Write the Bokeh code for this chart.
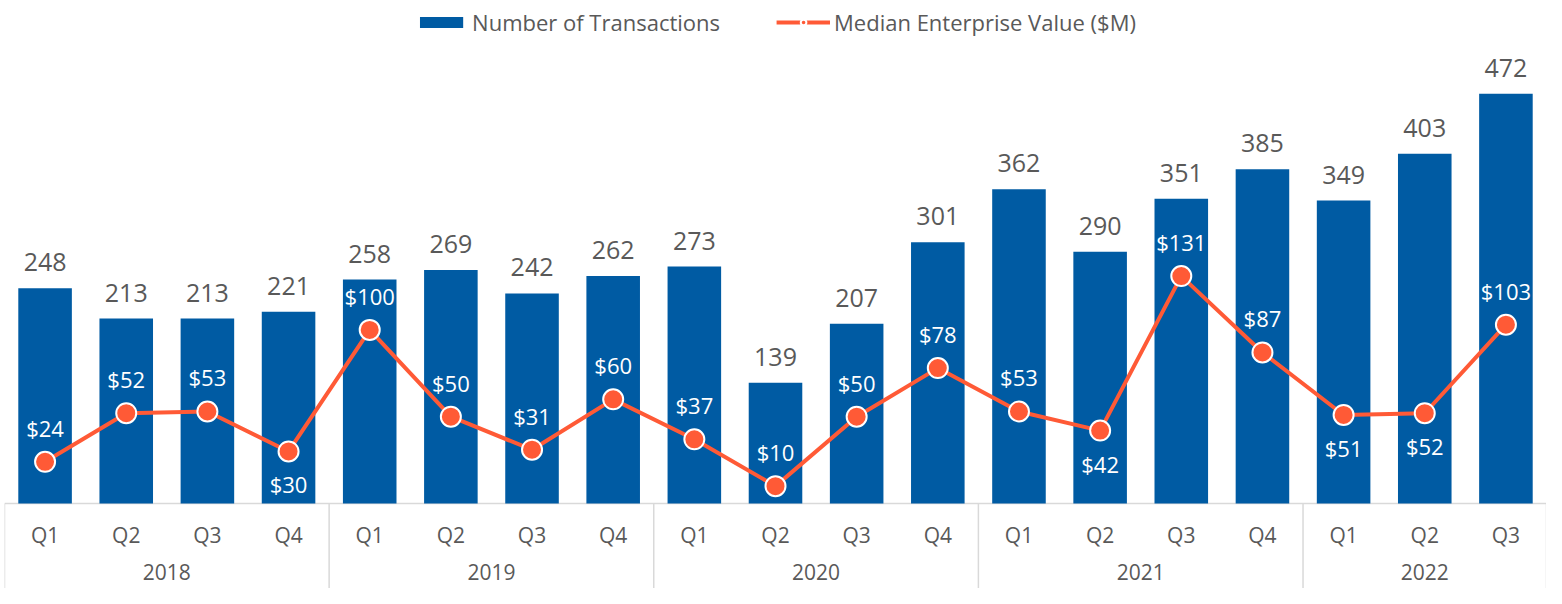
from bokeh.plotting import figure
from bokeh.models import FactorRange, Range1d, ColumnDataSource, Legend, LegendItem
from bokeh.core.properties import value
from bokeh.embed import file_html
from bokeh.resources import INLINE

# ---------------- data ----------------
YEARS = ["2018", "2019", "2020", "2021", "2022"]
QUARTERS = [
    ["Q1", "Q2", "Q3", "Q4"],
    ["Q1", "Q2", "Q3", "Q4"],
    ["Q1", "Q2", "Q3", "Q4"],
    ["Q1", "Q2", "Q3", "Q4"],
    ["Q1", "Q2", "Q3"],
]
TRANSACTIONS = [248, 213, 213, 221, 258, 269, 242, 262, 273, 139, 207, 301,
                362, 290, 351, 385, 349, 403, 472]
MEDIAN_EV = [24, 52, 53, 30, 100, 50, 31, 60, 37, 10, 50, 78,
             53, 42, 131, 87, 51, 52, 103]
# indices whose value label sits below the marker
EV_LABEL_BELOW = [3, 13, 16, 17]

# ---------------- style ----------------
FONT = "Open Sans"
BAR_COLOR = "#005BA3"
LINE_COLOR = "#FF5A36"
TEXT_COLOR = "#595959"
RULE_COLOR = "#D9D9D9"

W, H = 1546, 588
LEFT_PAD = 4
BASELINE_PX = 503          # distance of the zero line from the top of the frame
PX_PER_UNIT = 0.868        # pixels per transaction
EV_RATIO = 2.0             # transactions per $M on the secondary scale

y_end = BASELINE_PX / PX_PER_UNIT
y_start = -(H - BASELINE_PX) / PX_PER_UNIT

factors = [(y, q) for y, qs in zip(YEARS, QUARTERS) for q in qs]
quarters = [q for _, q in factors]

p = figure(
    width=W, height=H,
    x_range=FactorRange(*factors, factor_padding=0, group_padding=0, range_padding=0),
    y_range=Range1d(y_start, y_end),
    output_backend="svg", toolbar_location=None,
    min_border=0, min_border_left=LEFT_PAD, min_border_right=0,
    min_border_top=0, min_border_bottom=0,
)
p.extra_y_ranges = {"ev": Range1d(y_start / EV_RATIO, y_end / EV_RATIO)}
p.xaxis.visible = False
p.yaxis.visible = False
p.xgrid.visible = False
p.ygrid.visible = False
p.outline_line_color = None
p.background_fill_color = "white"
p.border_fill_color = "white"

src = ColumnDataSource(dict(
    x=factors, q=quarters, n=TRANSACTIONS, ev=MEDIAN_EV,
    nlab=[str(v) for v in TRANSACTIONS],
    zero=[0] * len(factors),
))

# category axis frame: base line and group separators
bounds = [0]
for qs in QUARTERS:
    bounds.append(bounds[-1] + len(qs))
p.segment(x0=[bounds[0]], y0=[0], x1=[bounds[-1]], y1=[0],
          line_color=RULE_COLOR, line_width=1.5)
p.segment(x0=bounds, y0=[0] * len(bounds), x1=bounds, y1=[y_start] * len(bounds),
          line_color=RULE_COLOR, line_width=1.5)

bars = p.vbar(x="x", top="n", width=0.66, source=src,
              fill_color=BAR_COLOR, line_color=None)

# bar value labels
p.text(x="x", y="n", text="nlab", source=src, y_offset=-26,
       text_align="center", text_baseline="middle",
       text_font=value(FONT), text_font_size="25px", text_color=TEXT_COLOR)

# category labels
p.text(x="x", y="zero", text="q", source=src, y_offset=31,
       text_align="center", text_baseline="middle",
       text_font=value(FONT), text_font_size="21px", text_color=TEXT_COLOR)
p.text(x=YEARS, y=[0] * len(YEARS), text=YEARS, y_offset=68,
       text_align="center", text_baseline="middle",
       text_font=value(FONT), text_font_size="21px", text_color=TEXT_COLOR)

# line series
line_r = p.line(x="x", y="ev", source=src, y_range_name="ev",
                line_color=LINE_COLOR, line_width=4)
scat_r = p.scatter(x="x", y="ev", source=src, y_range_name="ev", size=20,
                   fill_color=LINE_COLOR, line_color="white", line_width=2)

above = [i for i in range(len(factors)) if i not in EV_LABEL_BELOW]
below = [i for i in range(len(factors)) if i in EV_LABEL_BELOW]
for idx, off in ((above, -34), (below, 33)):
    s = ColumnDataSource(dict(
        x=[factors[i] for i in idx],
        ev=[MEDIAN_EV[i] for i in idx],
        t=["$" + str(MEDIAN_EV[i]) for i in idx],
    ))
    p.text(x="x", y="ev", text="t", source=s, y_range_name="ev", y_offset=off,
           text_align="center", text_baseline="middle",
           text_font=value(FONT), text_font_size="22px", text_color="white")

legend = Legend(
    items=[LegendItem(label="Number of Transactions", renderers=[bars]),
           LegendItem(label="Median Enterprise Value ($M)", renderers=[line_r, scat_r])],
    orientation="horizontal", location="top_center",
    border_line_color=None, background_fill_alpha=0,
    label_text_font=FONT, label_text_font_size="22px", label_text_color=TEXT_COLOR,
    glyph_width=54, glyph_height=14, label_standoff=4, spacing=56,
    padding=0, margin=7,
)
p.add_layout(legend)

open("out.html", "w").write(file_html(p, INLINE))
